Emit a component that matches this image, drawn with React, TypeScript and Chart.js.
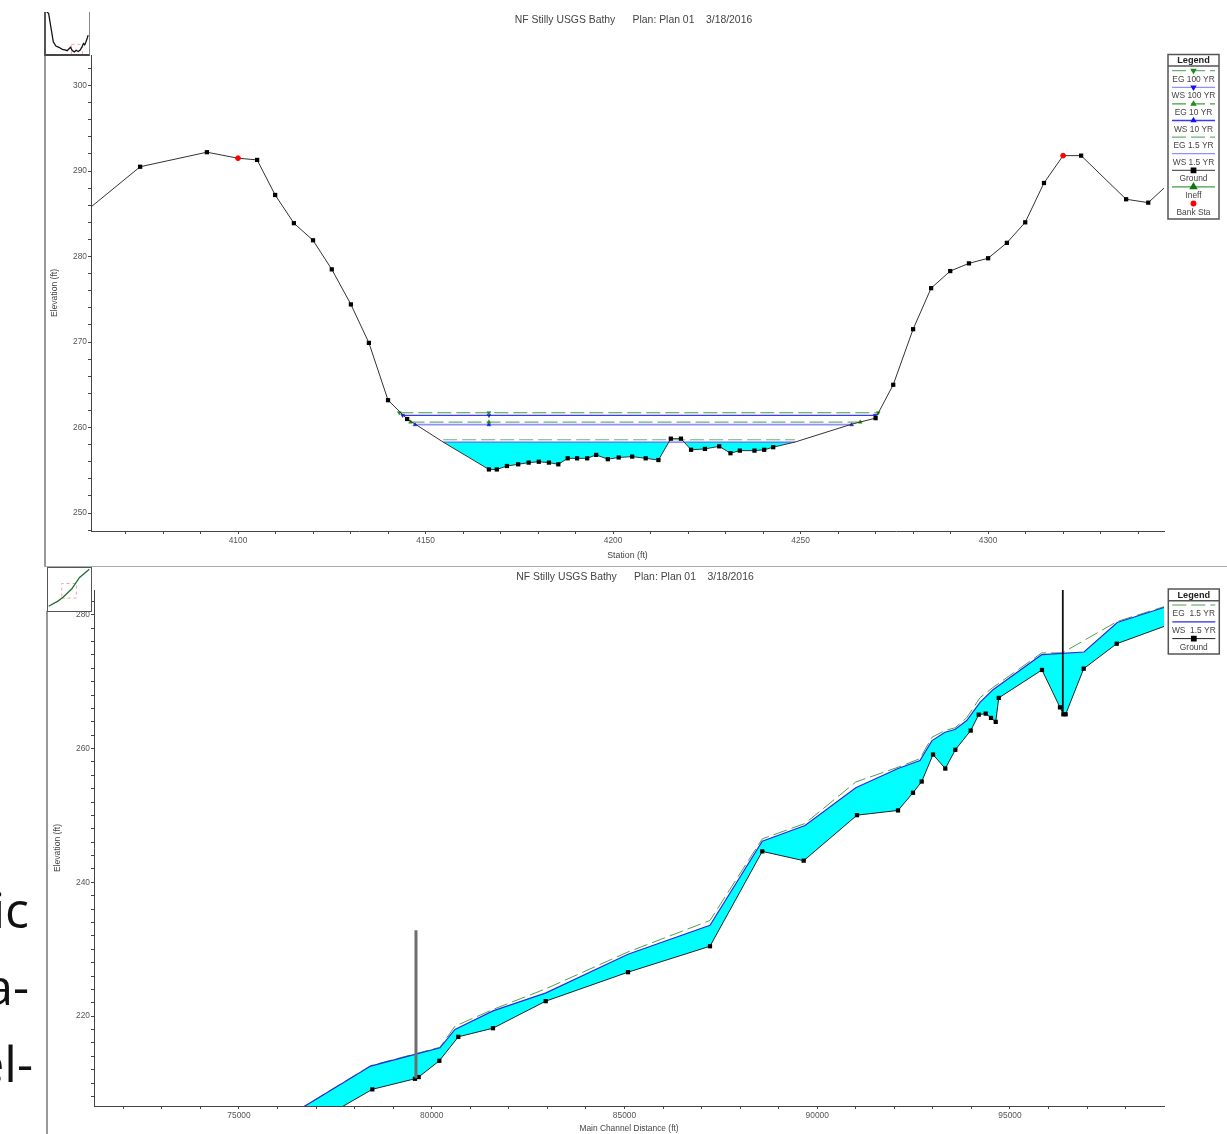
import React, { useEffect, useRef } from "react";
import { Chart, registerables } from "chart.js";
import { drawPoint } from "chart.js/helpers";

Chart.register(...registerables);

const chartTitle = "NF Stilly USGS Bathy      Plan: Plan 01    3/18/2016";

// Cross section
const xsStation = [4060.8, 4073.9, 4091.7, 4100, 4105.1, 4109.9, 4114.9, 4120, 4125, 4130.1, 4134.9, 4140, 4145.1, 4154.7, 4166.9, 4169, 4171.7, 4174.7, 4177.5, 4180.2, 4182.9, 4185.4, 4187.9, 4190.4, 4193.1, 4195.5, 4198.6, 4201.5, 4205.1, 4208.7, 4212.1, 4215.4, 4218.1, 4220.8, 4224.5, 4228.3, 4231.3, 4233.8, 4237.7, 4240.3, 4242.7, 4248.5, 4263.7, 4270, 4274.7, 4280, 4284.8, 4289.9, 4294.9, 4300, 4305, 4309.9, 4314.9, 4320, 4324.8, 4336.8, 4342.7, 4346.9];
const xsElevation = [285.8, 290.5, 292.2, 291.5, 291.3, 287.2, 283.9, 281.9, 278.5, 274.4, 269.9, 263.2, 261.0, 258.3, 255.1, 255.1, 255.5, 255.7, 255.9, 256.0, 255.9, 255.7, 256.4, 256.4, 256.4, 256.8, 256.3, 256.5, 256.6, 256.4, 256.2, 258.7, 258.7, 257.4, 257.5, 257.8, 257.0, 257.3, 257.3, 257.4, 257.7, 258.3, 260.4, 261.1, 265.0, 271.5, 276.3, 278.3, 279.2, 279.8, 281.6, 284.0, 288.6, 291.8, 291.8, 286.7, 286.3, 288];
const xsUnmarked = [4060.8, 4100, 4154.7, 4248.5, 4263.7, 4320, 4346.9];
const bankStation = [4100, 4320];
const bankElevation = [291.5, 291.8];
const eg100Station = [4143, 4166.9, 4270.7];
const eg100Level = 261.73;
const ws100Station = [4143.9, 4166.9, 4269.9];
const ws100Level = 261.43;
const eg10Station = [4146, 4166.9, 4265.9];
const eg10Level = 260.64;
const ws10Station = [4147.2, 4166.9, 4263.6];
const ws10Level = 260.33;
const eg15Station = [4154.7, 4248.5];
const eg15Level = 258.57;
const ws15Station = [4154.7, 4248.5];
const ws15Level = 258.3;

// Profile
const profStation = [76064, 78458, 79565, 79661, 80197, 80689, 81589, 82956, 85091, 87218, 88574, 89649, 91031, 92095, 92484, 92710, 93003, 93322, 93582, 93981, 94189, 94371, 94508, 94630, 94708, 95830, 96297, 96384, 96444, 96912, 97768, 98995];
const profGround = [201.1, 209.06, 210.64, 210.9, 213.33, 216.91, 218.2, 222.24, 226.57, 230.45, 244.63, 243.24, 250.04, 250.75, 253.39, 255.07, 259.1, 257.01, 259.81, 262.69, 265.07, 265.22, 264.58, 263.99, 267.57, 271.75, 266.16, 265.12, 265.12, 271.94, 275.67, 278.25];
const profUnmarked = [76064, 98995];
const wsStation = [76064, 78416, 79591, 80214, 80603, 81589, 82964, 85091, 87218, 88574, 89682, 91000, 92095, 92665, 92977, 93314, 93573, 93877, 94222, 94551, 95822, 96357, 96920, 97783, 98995];
const wsElevation = [204.3, 212.54, 214.33, 215.27, 218.01, 220.79, 223.48, 229.25, 233.58, 246.16, 248.5, 254.13, 257.01, 258.21, 261.19, 262.43, 262.84, 264.18, 266.91, 268.76, 274.03, 274.22, 274.43, 278.85, 281.09];
const egStation = [76064, 78416, 79591, 80214, 80603, 81589, 82964, 85091, 87218, 88574, 89682, 91000, 92095, 92665, 92977, 93314, 93573, 93877, 94222, 94551, 95822, 96357, 97783, 98995];
const egElevation = [204.3, 212.6, 214.4, 215.35, 218.5, 221.0, 224.1, 229.6, 234.3, 246.5, 248.8, 255.0, 257.2, 258.5, 261.7, 262.7, 263.1, 264.6, 267.6, 269.1, 274.3, 274.3, 279.0, 281.2];
const bridgeAStation = [79591, 79591];
const bridgeAElevation = [210.7, 232.84];
const bridgeBStation = [96370, 96370];
const bridgeBElevation = [265.4, 283.7];

// Key-map thumbnails (percent of the thumbnail box)
const thumbAX = [1.6, 6, 17, 23, 30, 38, 44, 49, 53, 57, 61, 66, 70, 75, 80, 84, 87, 90, 93, 96, 98];
const thumbAY = [100, 97, 29, 19, 16, 11, 10, 8, 12, 16, 8, 5, 9, 6, 10, 18, 25, 22, 29, 38, 45];
const thumbBX = [1.4, 23, 35, 55, 73.4, 96];
const thumbBY = [11, 23, 32, 51, 78, 97];
const thumbABoxX = [59, 85, 85, 59, 59];
const thumbABoxY = [23, 23, -5, -5, 23];
const thumbBBoxX = [32, 66, 66, 32, 32];
const thumbBBoxY = [30, 30, 64, 64, 30];

const pts = (xs: number[], ys: number[]) => xs.map((x, i) => ({ x, y: ys[i] }));
const flat = (xs: number[], level: number) => xs.map((x) => ({ x, y: level }));

// Water below a level: clip ground to that level, one polygon per wet reach.
function wetReaches(xs: number[], ys: number[], level: number) {
  const out: { x: number; y: number }[][] = [];
  let cur: { x: number; y: number }[] = [];
  for (let i = 0; i < xs.length; i++) {
    const below = ys[i] <= level;
    if (i > 0 && below !== ys[i - 1] <= level) {
      const t = (level - ys[i - 1]) / (ys[i] - ys[i - 1]);
      const cx = xs[i - 1] + t * (xs[i] - xs[i - 1]);
      cur.push({ x: cx, y: level });
      if (!below) {
        out.push(cur);
        cur = [];
      }
    }
    if (below) cur.push({ x: xs[i], y: ys[i] });
  }
  return out;
}

const FONT = "'Liberation Sans', Arial, sans-serif";
const TICK = "#555";
const AXIS = "#444";

const framePlugin = {
  id: "hecFrame",
  afterDraw(chart: any, _a: any, o: any) {
    const ctx = chart.ctx;
    ctx.save();
    ctx.fillStyle = "#444";
    ctx.textAlign = "center";
    ctx.textBaseline = "middle";
    ctx.font = `10.4px ${FONT}`;
    ctx.fillText(chartTitle, o.titleX, o.titleY);

    ctx.strokeStyle = "#555";
    ctx.lineWidth = 1.5;
    ctx.fillStyle = "#fff";
    ctx.fillRect(o.boxX, o.boxY, o.boxW, o.boxH);
    ctx.strokeRect(o.boxX, o.boxY, o.boxW, o.boxH);
    ctx.beginPath();
    ctx.moveTo(o.boxX, o.sepY);
    ctx.lineTo(o.boxX + o.boxW, o.sepY);
    ctx.stroke();
    ctx.fillStyle = "#222";
    ctx.font = `bold 9.2px ${FONT}`;
    const cx = o.boxX + o.boxW / 2;
    ctx.fillText("Legend", cx, (o.boxY + o.sepY) / 2 + 0.5);

    const items = chart.data.datasets.filter((d: any) => d.label);
    items.forEach((d: any, i: number) => {
      const y = o.firstY + i * o.step;
      const x0 = o.boxX + 4;
      const x1 = o.boxX + o.boxW - 4;
      if (d.showLine !== false) {
        ctx.save();
        ctx.strokeStyle = d.legendColor || d.borderColor;
        ctx.lineWidth = d.legendWidth || d.borderWidth || 1;
        ctx.setLineDash(d.borderDash || []);
        ctx.beginPath();
        ctx.moveTo(x0, y);
        ctx.lineTo(x1, y);
        ctx.stroke();
        ctx.restore();
      }
      const r = d.legendRadius ?? 0;
      if (r > 0) {
        ctx.save();
        ctx.fillStyle = d.pointBackgroundColor;
        ctx.strokeStyle = d.pointBackgroundColor;
        drawPoint(ctx, { pointStyle: d.pointStyle, radius: r, rotation: d.pointRotation || 0, borderWidth: 0.5 }, cx, y);
        ctx.restore();
      }
      ctx.fillStyle = "#444";
      ctx.font = `8.4px ${FONT}`;
      ctx.fillText(d.label, cx, y + o.labelGap);
    });
    ctx.restore();
  },
};

function scaleOpts(o: any) {
  return {
    type: "linear",
    min: o.min,
    max: o.max,
    title: {
      display: true,
      text: o.title,
      color: "#444",
      font: { size: o.titleSize, family: FONT },
      padding: o.titlePad,
    },
    border: { color: AXIS, width: 1 },
    grid: { drawOnChartArea: false, drawTicks: true, tickLength: 3, color: AXIS },
    ticks: {
      autoSkip: false,
      maxRotation: 0,
      minRotation: 0,
      color: TICK,
      padding: o.pad,
      font: { size: 8.4, family: FONT },
      callback: (v: number) => (v % o.major === 0 ? String(v) : ""),
    },
    afterBuildTicks: (s: any) => {
      const out = [];
      for (let v = Math.ceil(o.min / o.step) * o.step; v <= o.max; v += o.step) out.push({ value: v });
      s.ticks = out;
    },
    afterFit: o.fit,
  };
}

const EG_SOFT = "#6fb06f";
const EG_MARK = "#1e8f1e";
const WS_SOFT = "#9090fb";
const WS_MARK = "#1414ee";

function crossSectionConfig(): any {
  const reaches = wetReaches(xsStation, xsElevation, ws15Level);
  const level = (label: string, xs: number[], y: number, color: string, legendColor: string, mark: string, dash: number[], width: number, style: string | false, rot: number) => ({
    label,
    data: flat(xs, y),
    borderColor: color,
    legendColor,
    legendWidth: 1.3,
    borderDash: dash,
    borderWidth: width,
    pointStyle: style,
    pointRotation: rot,
    pointRadius: style ? 2.2 : 0,
    legendRadius: style ? 2.2 : 0,
    pointBackgroundColor: mark,
    pointBorderColor: mark,
    pointBorderWidth: 0.5,
    order: 3,
  });
  return {
    type: "line",
    data: {
      datasets: [
        level("EG 100 YR", eg100Station, eg100Level, "#3f9f3f", EG_SOFT, EG_MARK, [14, 5], 1.2, "triangle", 180),
        level("WS 100 YR", ws100Station, ws100Level, "#3a3af2", WS_SOFT, WS_MARK, [], 1.2, "triangle", 180),
        level("EG 10 YR", eg10Station, eg10Level, EG_SOFT, "#3f9f3f", EG_MARK, [14, 5], 1.3, "triangle", 0),
        level("WS 10 YR", ws10Station, ws10Level, WS_SOFT, "#3a3af2", WS_MARK, [], 1.8, "triangle", 0),
        level("EG 1.5 YR", eg15Station, eg15Level, EG_SOFT, EG_SOFT, EG_MARK, [14, 5], 1.2, false, 0),
        level("WS 1.5 YR", ws15Station, ws15Level, "#6a6af5", WS_SOFT, WS_MARK, [], 1.4, false, 0),
        {
          label: "Ground",
          data: pts(xsStation, xsElevation),
          borderColor: "#333",
          borderWidth: 1,
          pointStyle: "rect",
          legendRadius: 3,
          pointRadius: (c: any) => (xsUnmarked.includes(c.raw?.x) ? 0 : 3),
          pointBackgroundColor: "#000",
          pointBorderColor: "#000",
          pointBorderWidth: 0,
          order: 2,
        },
        {
          label: "Ineff",
          data: [],
          borderColor: "#3f9f3f",
          borderWidth: 1.2,
          pointStyle: "triangle",
          legendRadius: 3.4,
          pointBackgroundColor: "#0a7a0a",
        },
        {
          label: "Bank Sta",
          data: pts(bankStation, bankElevation),
          showLine: false,
          pointStyle: "circle",
          pointRadius: 2.4,
          legendRadius: 2.2,
          pointBackgroundColor: "#ff0000",
          pointBorderColor: "#ff0000",
          order: 1,
        },
        ...reaches.map((r) => ({
          data: [...r, r[0]],
          backgroundColor: "#00ffff",
          borderWidth: 0,
          pointRadius: 0,
          fill: "shape",
          order: 9,
        })),
      ],
    },
    options: {
      responsive: false,
      animation: false,
      layout: { padding: { left: 49, top: 55, right: 63, bottom: 568 } },
      elements: { line: { tension: 0 } },
      plugins: {
        legend: { display: false },
        title: { display: false },
        tooltip: { enabled: false },
        hecFrame: {
          titleX: 633.5, titleY: 20.5,
          boxX: 1168, boxY: 54.5, boxW: 51, boxH: 164.5, sepY: 66,
          firstY: 70.7, step: 16.6, labelGap: 8.7,
        },
      },
      scales: {
        x: scaleOpts({ min: 4060.8, max: 4346.9, title: "Station (ft)", titleSize: 8.8, titlePad: { top: 0, bottom: 5 }, step: 10, major: 50, pad: 2, fit: (s: any) => { s.height = 35; } }),
        y: scaleOpts({ min: 247.9, max: 303.57, title: "Elevation (ft)", titleSize: 8.6, titlePad: 0, step: 2, major: 10, pad: 1, fit: (s: any) => { s.width = 42; } }),
      },
    },
    plugins: [framePlugin],
  };
}

function profileConfig(): any {
  const ground = pts(profStation, profGround);
  const ws = pts(wsStation, wsElevation);
  return {
    type: "line",
    data: {
      datasets: [
        {
          label: "EG  1.5 YR",
          data: pts(egStation, egElevation),
          borderColor: "#4f9f4f",
          borderDash: [14, 5],
          borderWidth: 1,
          pointRadius: 0,
          order: 4,
        },
        {
          label: "WS  1.5 YR",
          data: ws,
          borderColor: "#2a2ae0",
          borderWidth: 1.2,
          pointRadius: 0,
          order: 3,
        },
        {
          label: "Ground",
          data: ground,
          borderColor: "#222",
          borderWidth: 1,
          pointStyle: "rect",
          legendRadius: 3,
          pointRadius: (c: any) => (profUnmarked.includes(c.raw?.x) ? 0 : 3),
          pointBackgroundColor: "#000",
          pointBorderColor: "#000",
          pointBorderWidth: 0,
          order: 2,
        },
        { data: pts(bridgeAStation, bridgeAElevation), borderColor: "#6e6e6e", borderWidth: 3, pointRadius: 0, order: 1 },
        { data: pts(bridgeBStation, bridgeBElevation), borderColor: "#111", borderWidth: 1.8, pointRadius: 0, order: 1 },
        {
          data: [...ws, ...[...ground].reverse(), ws[0]],
          backgroundColor: "#00ffff",
          borderWidth: 0,
          pointRadius: 0,
          fill: "shape",
          order: 9,
        },
      ],
    },
    options: {
      responsive: false,
      animation: false,
      layout: { padding: { left: 52, top: 590, right: 63, bottom: 0 } },
      elements: { line: { tension: 0 } },
      plugins: {
        legend: { display: false },
        title: { display: false },
        tooltip: { enabled: false },
        hecFrame: {
          titleX: 635, titleY: 577.5,
          boxX: 1168.3, boxY: 589, boxW: 51, boxH: 65, sepY: 600.7,
          firstY: 605, step: 16.8, labelGap: 8.8,
        },
      },
      scales: {
        x: scaleOpts({ min: 71239, max: 98995, title: "Main Channel Distance (ft)", titleSize: 8.4, titlePad: 0, step: 1000, major: 5000, pad: 2, fit: (s: any) => { s.height = 28; } }),
        y: scaleOpts({ min: 206.57, max: 283.7, title: "Elevation (ft)", titleSize: 8.6, titlePad: 0, step: 2, major: 20, pad: 1, fit: (s: any) => { s.width = 42; } }),
      },
    },
    plugins: [framePlugin],
  };
}

function thumbConfig(xs: number[], ys: number[], color: string, boxX: number[], boxY: number[]): any {
  return {
    type: "line",
    data: {
      datasets: [
        { data: pts(xs, ys), borderColor: color, borderWidth: 1.3, pointRadius: 0, order: 1 },
        { data: pts(boxX, boxY), borderColor: "#f7a0a0", borderWidth: 1, borderDash: [3, 3], pointRadius: 0, order: 2 },
      ],
    },
    options: {
      responsive: false,
      animation: false,
      layout: { padding: 0 },
      elements: { line: { tension: 0 } },
      plugins: { legend: { display: false }, tooltip: { enabled: false } },
      scales: {
        x: { type: "linear", display: false, min: 0, max: 100 },
        y: { type: "linear", display: false, min: 0, max: 100 },
      },
    },
  };
}

const abs = (left: number, top: number, width: number, height: number, background: string): React.CSSProperties => ({
  position: "absolute",
  left,
  top,
  width,
  height,
  background,
});

const sideText: React.CSSProperties = {
  position: "absolute",
  width: 200,
  textAlign: "right",
  fontFamily: "'Open Sans', sans-serif",
  fontSize: 50,
  lineHeight: "48px",
  color: "#111",
  whiteSpace: "nowrap",
};

const soft = "blur(0.35px)";

export default function App() {
  const a = useRef<HTMLCanvasElement>(null);
  const b = useRef<HTMLCanvasElement>(null);
  const c = useRef<HTMLCanvasElement>(null);
  const d = useRef<HTMLCanvasElement>(null);
  useEffect(() => {
    const charts = [
      new Chart(a.current!, crossSectionConfig()),
      new Chart(b.current!, profileConfig()),
      new Chart(c.current!, thumbConfig(thumbAX, thumbAY, "#111", thumbABoxX, thumbABoxY)),
      new Chart(d.current!, thumbConfig(thumbBX, thumbBY, "#1f6f2f", thumbBBoxX, thumbBBoxY)),
    ];
    return () => charts.forEach((ch) => ch.destroy());
  }, []);
  const page: React.CSSProperties = { position: "absolute", left: 0, top: 0, filter: soft };
  return (
    <div style={{ position: "absolute", left: 0, top: 0, width: 1227, height: 1134, overflow: "hidden", background: "#fff" }}>
      <div style={{ ...sideText, left: -171, top: 884.6 }}>ic</div>
      <div style={{ ...sideText, left: -171, top: 961.6 }}>a-</div>
      <div style={{ ...sideText, left: -167, top: 1038.6 }}>el-</div>

      <canvas ref={a} width={1227} height={1134} style={page} />
      <canvas ref={b} width={1227} height={1134} style={page} />

      <div style={abs(44, 54, 1.5, 512, "#999")} />
      <div style={abs(44, 565.5, 1183, 1, "#aaa")} />
      <div style={abs(46.3, 611, 1.5, 523, "#999")} />

      <div style={{ ...abs(44, 12, 43, 42, "#fff"), borderLeft: "2px solid #555", borderRight: "1px solid #888", borderBottom: "2px solid #444", filter: soft }}>
        <canvas ref={c} width={43} height={42} style={{ display: "block" }} />
      </div>
      <div style={{ ...abs(47, 566.5, 43, 43, "#fff"), border: "1.5px solid #555", filter: soft }}>
        <canvas ref={d} width={43} height={43} style={{ display: "block" }} />
      </div>
    </div>
  );
}
